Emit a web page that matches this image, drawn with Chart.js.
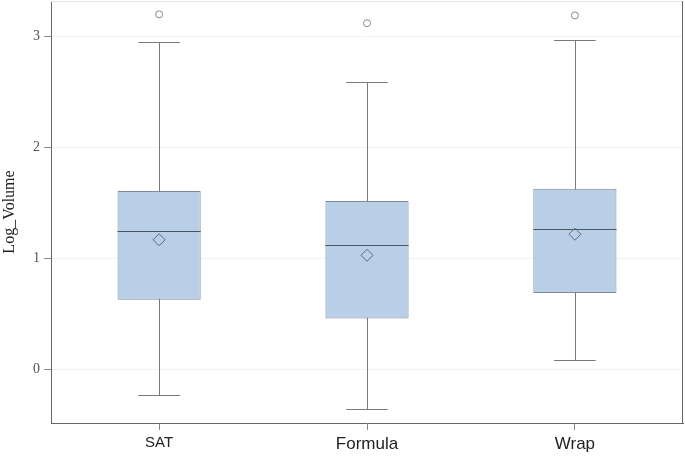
<!DOCTYPE html>
<html>
<head>
<meta charset="utf-8">
<script src="https://cdn.jsdelivr.net/npm/chart.js@4"></script>
<style>
  html, body { margin: 0; padding: 0; background: #fff; }
  #wrap { width: 685px; height: 457px; }
</style>
</head>
<body>
<div id="wrap"><canvas id="boxChart"></canvas></div>
<script>
const categories = ['SAT', 'Formula', 'Wrap'];
const whiskerLow = [-0.225, -0.35, 0.09];
const q1 = [0.63, 0.46, 0.69];
const medians = [1.25, 1.12, 1.27];
const q3 = [1.61, 1.52, 1.63];
const whiskerHigh = [2.955, 2.59, 2.97];
const means = [1.17, 1.03, 1.22];
const outliers = [3.20, 3.12, 3.19];
const yTickValues = [0, 1, 2, 3];

const labelSizes = [15, 17, 17];

// whiskers + caps under the boxes, medians on top of them
const boxLines = {
  id: 'boxLines',
  beforeDatasetsDraw(chart) {
    const { ctx, scales: { x, y } } = chart;
    ctx.save();
    ctx.strokeStyle = '#7a7a7a';
    ctx.lineWidth = 1;
    categories.forEach((c, i) => {
      const cx = Math.round(x.getPixelForValue(i)) + 0.5;
      const lo = Math.round(y.getPixelForValue(whiskerLow[i])) + 0.5;
      const hi = Math.round(y.getPixelForValue(whiskerHigh[i])) + 0.5;
      const l = x.getPixelForValue(i - 0.1);
      const r = x.getPixelForValue(i + 0.1);
      ctx.beginPath();
      ctx.moveTo(cx, lo); ctx.lineTo(cx, hi);
      ctx.moveTo(l, lo); ctx.lineTo(r, lo);
      ctx.moveTo(l, hi); ctx.lineTo(r, hi);
      ctx.stroke();
    });
    ctx.restore();
  },
  afterDatasetDraw(chart, args) {
    if (args.index !== 0) return;
    const { ctx, scales: { x, y } } = chart;
    ctx.save();
    ctx.strokeStyle = '#4d5562';
    ctx.lineWidth = 1;
    categories.forEach((c, i) => {
      const m = Math.round(y.getPixelForValue(medians[i])) + 0.5;
      ctx.beginPath();
      ctx.moveTo(x.getPixelForValue(i - 0.2), m);
      ctx.lineTo(x.getPixelForValue(i + 0.2), m);
      ctx.stroke();
    });
    ctx.restore();
  },
  afterDraw(chart) {
    const { ctx, chartArea: a } = chart;
    ctx.save();
    ctx.lineWidth = 1;
    ctx.strokeStyle = '#e6e6e6';
    ctx.beginPath();
    ctx.moveTo(a.left, a.top + 0.5); ctx.lineTo(a.right, a.top + 0.5);
    ctx.stroke();
    ctx.strokeStyle = '#666';
    ctx.beginPath();
    ctx.moveTo(a.right - 0.5, a.top); ctx.lineTo(a.right - 0.5, a.bottom);
    ctx.stroke();
    ctx.restore();
  }
};

new Chart(document.getElementById('boxChart'), {
  type: 'bar',
  data: {
    datasets: [
      {
        type: 'bar',
        order: 3,
        data: categories.map((c, i) => ({ x: i, y: [q1[i], q3[i]] })),
        backgroundColor: '#b9cfe8',
        borderColor: '#7f8895',
        borderWidth: 1,
        borderSkipped: false,
        barPercentage: 0.4,
        categoryPercentage: 1
      },
      {
        type: 'scatter',
        order: 1,
        data: categories.map((c, i) => ({ x: i, y: means[i] })),
        pointStyle: 'rectRot',
        pointRadius: 6,
        backgroundColor: 'rgba(0,0,0,0)',
        borderColor: '#5f6878',
        borderWidth: 1
      },
      {
        type: 'scatter',
        order: 2,
        data: categories.map((c, i) => ({ x: i, y: outliers[i] })),
        pointStyle: 'circle',
        pointRadius: 3.5,
        backgroundColor: '#fff',
        borderColor: '#888',
        borderWidth: 1
      }
    ]
  },
  options: {
    responsive: true,
    maintainAspectRatio: false,
    animation: false,
    layout: { autoPadding: false, padding: { top: 1, right: 2, left: 0, bottom: 0 } },
    plugins: { legend: { display: false }, tooltip: { enabled: false } },
    scales: {
      x: {
        type: 'linear',
        min: -0.52,
        max: 2.52,
        offset: false,
        afterBuildTicks: s => { s.ticks = categories.map((c, i) => ({ value: i })); },
        afterFit: s => { s.height = 34; s.paddingLeft = 0; s.paddingRight = 0; },
        grid: { offset: false, drawOnChartArea: false, drawTicks: true, tickLength: 7, tickColor: '#888' },
        border: { color: '#666', width: 1 },
        ticks: {
          padding: 4,
          color: '#222',
          callback: v => categories[v],
          font: ctx => ({ family: '"Liberation Sans", Arial, sans-serif', size: labelSizes[ctx.index] || 16 })
        }
      },
      y: {
        min: -0.48,
        max: 3.32,
        afterBuildTicks: s => { s.ticks = yTickValues.map(v => ({ value: v })); },
        afterFit: s => { s.width = 51; s.paddingTop = 0; s.paddingBottom = 0; },
        grid: { color: '#f2f2f2', tickLength: 7, tickColor: '#888' },
        border: { color: '#666', width: 1 },
        ticks: {
          padding: 4,
          color: '#555',
          font: { family: '"Liberation Serif", "Times New Roman", serif', size: 14 }
        },
        title: {
          display: true,
          text: 'Log_Volume',
          color: '#222',
          padding: 0,
          font: { family: '"Liberation Serif", "Times New Roman", serif', size: 16 }
        }
      }
    }
  },
  plugins: [boxLines]
});
</script>
</body>
</html>
